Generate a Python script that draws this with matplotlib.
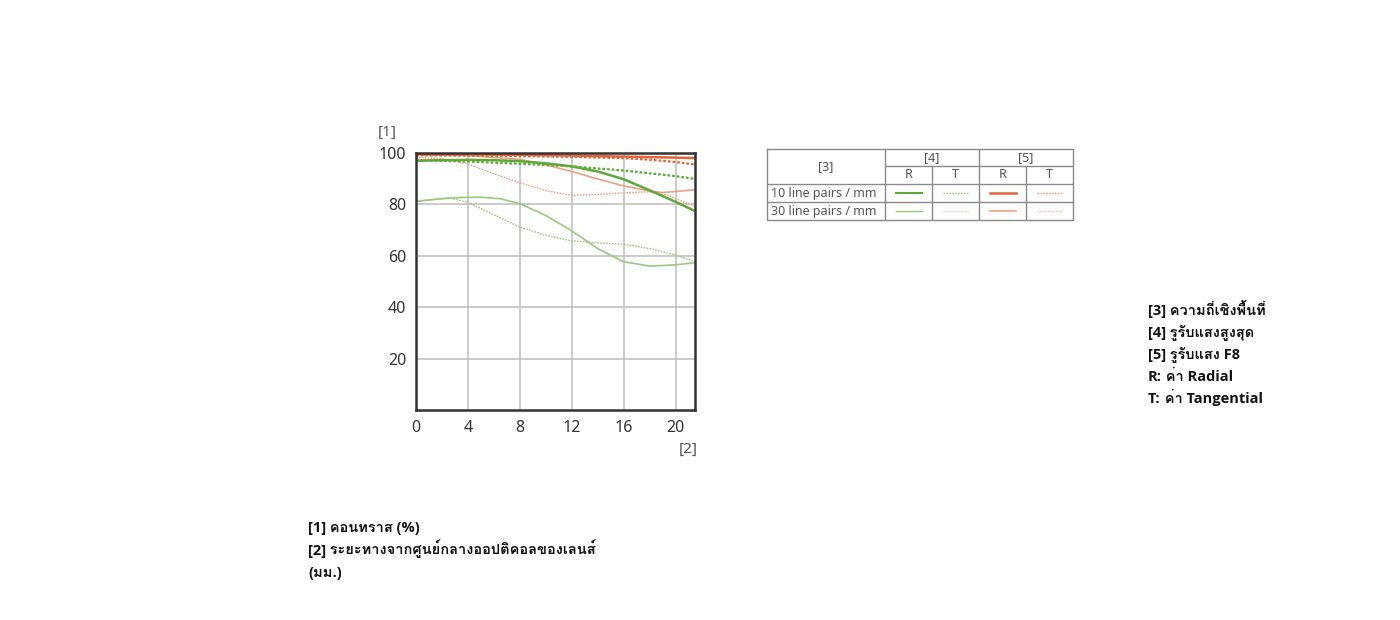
import numpy as np
import matplotlib
matplotlib.use("Agg")
import matplotlib.pyplot as plt
from matplotlib import font_manager, ft2font

# MTF data (x: mm from optical centre, y: contrast %)
x_gr10 = [0, 2, 4, 6, 8, 10, 12, 14, 16, 18, 20, 21.5]
y_gr10 = [97.0, 97.2, 97.3, 97.2, 96.8, 96.0, 94.8, 92.8, 89.8, 85.5, 81.0, 77.4]
x_gt10 = [0, 4, 8, 12, 16, 20, 21.5]
y_gt10 = [97.2, 96.7, 95.8, 94.8, 93.2, 91.0, 89.9]
x_rr10 = [0, 4, 8, 12, 16, 20, 21.5]
y_rr10 = [99.6, 99.5, 99.3, 99.0, 98.6, 98.2, 98.0]
x_rt10 = [0, 4, 8, 12, 16, 18, 20, 21.5]
y_rt10 = [99.1, 99.0, 98.8, 98.5, 98.0, 97.4, 96.5, 95.5]

x_gr30 = [0, 2, 3.5, 5, 6.5, 8, 10, 12, 13, 14, 16, 18, 20, 21.5]
y_gr30 = [81.2, 82.2, 82.7, 82.8, 82.2, 80.3, 75.7, 69.7, 66.3, 62.8, 57.7, 56.0, 56.5, 57.3]
x_gt30 = [0, 2.5, 4, 6, 8, 10, 12, 14, 16, 18, 20, 21.5]
y_gt30 = [81.2, 82.6, 80.8, 76.0, 71.2, 68.0, 65.8, 65.0, 64.5, 62.8, 60.3, 57.7]
x_rr30 = [0, 4, 8, 10, 12, 14, 16, 18, 19, 20, 21.5]
y_rr30 = [99.2, 99.0, 97.5, 95.4, 92.8, 89.9, 87.2, 85.2, 84.6, 85.0, 85.7]
x_rt30 = [0, 2, 4, 6, 8, 10, 12, 14, 16, 18, 19.5, 20, 21.5]
y_rt30 = [98.3, 97.8, 95.7, 91.9, 88.4, 85.4, 83.5, 83.9, 84.5, 84.9, 83.5, 82.2, 79.2]

x_ticks = [0, 4, 8, 12, 16, 20]
y_ticks = [20, 40, 60, 80, 100]

row_labels = ["10 line pairs / mm", "30 line pairs / mm"]
group_labels = ["[4]", "[5]"]
sub_labels = ["R", "T", "R", "T"]

notes_left = [("[1]", " คอนทราส (%)"),
              ("[2]", " ระยะทางจากศูนย์กลางออปติคอลของเลนส์"),
              ("", "(มม.)")]
notes_right = [("[3]", " ความถี่เชิงพื้นที่"),
               ("[4]", " รูรับแสงสูงสุด"),
               ("[5]", " รูรับแสง F8"),
               ("R:", " ค่า Radial"),
               ("T:", " ค่า Tangential")]

GREEN = "#5ea83a"
GREEN_L = "#98c97e"
RED = "#e0653a"
RED_L = "#eda084"
DOT = (0, (1.2, 0.9))


def find_thai_font():
    for f in font_manager.fontManager.ttflist:
        try:
            if ord("ก") in ft2font.FT2Font(f.fname).get_charmap():
                return f.name
        except Exception:
            pass
    return None


def has_bold(name):
    return any(f.name == name and f.weight in ("bold", 700, 600, "semibold")
               for f in font_manager.fontManager.ttflist)


thai = find_thai_font()
latin = "Noto Sans"
bold_latin = next((n for n in ["Noto Sans", "Open Sans", "Lato", "DejaVu Sans"] if has_bold(n)),
                  "DejaVu Sans")
fams = [latin, "DejaVu Sans"]
bfams = [bold_latin, "DejaVu Sans"]
if thai:
    fams = [latin, thai, "DejaVu Sans"]
    bfams = [bold_latin, thai, "DejaVu Sans"]
plt.rcParams["font.family"] = fams

fig = plt.figure(figsize=(14, 6.2), dpi=100)

# main MTF chart
ax = fig.add_axes([416 / 1400, 1 - 410 / 620, 279 / 1400, 257 / 620])
ax.set_xlim(0, 21.5)
ax.set_ylim(0, 100)
ax.set_xticks(x_ticks)
ax.set_yticks(y_ticks)
ax.grid(True, color="#bdbdbd", lw=1.1)
ax.set_axisbelow(True)
ax.tick_params(length=0, labelsize=11.5, labelcolor="#333333", pad=7)
for s in ax.spines.values():
    s.set_color("#333333")
    s.set_linewidth(1.8)

ax.plot(x_gt30, y_gt30, color=GREEN_L, lw=1.0, ls=DOT)
ax.plot(x_gr30, y_gr30, color=GREEN_L, lw=1.2)
ax.plot(x_rt30, y_rt30, color=RED_L, lw=1.0, ls=DOT)
ax.plot(x_rr30, y_rr30, color=RED_L, lw=1.2)
ax.plot(x_gt10, y_gt10, color=GREEN, lw=1.6, ls=DOT)
ax.plot(x_gr10, y_gr10, color=GREEN, lw=1.8)
ax.plot(x_rt10, y_rt10, color=RED, lw=1.6, ls=DOT)
ax.plot(x_rr10, y_rr10, color=RED, lw=1.8)

fig.text(387 / 1400, 1 - 132 / 620, "[1]", fontsize=11, color="#555555",
         ha="center", va="center")
fig.text(688 / 1400, 1 - 449 / 620, "[2]", fontsize=11, color="#555555",
         ha="center", va="center")

# legend table, drawn in its own pixel-unit axes
tb = fig.add_axes([767 / 1400, 1 - 220 / 620, 306 / 1400, 71 / 620])
tb.set_xlim(0, 306)
tb.set_ylim(71, 0)
tb.axis("off")
grid_c = "#8a8a8a"
tb.plot([0, 306, 306, 0, 0], [0, 0, 71, 71, 0], color=grid_c, lw=1.0, clip_on=False)
for xv in [118, 212]:
    tb.plot([xv, xv], [0, 71], color=grid_c, lw=1.0)
for xv in [165, 259]:
    tb.plot([xv, xv], [17, 71], color=grid_c, lw=1.0)
tb.plot([118, 306], [17, 17], color=grid_c, lw=1.0)
for yv in [35, 53]:
    tb.plot([0, 306], [yv, yv], color=grid_c, lw=1.0)
tcol = "#555555"
tb.text(59, 17.5, "[3]", ha="center", va="center", fontsize=9, color=tcol)
for i, g in enumerate(group_labels):
    tb.text(165 + 94 * i, 8.5, g, ha="center", va="center", fontsize=9, color=tcol)
for i, s in enumerate(sub_labels):
    tb.text(141.5 + 47 * i, 26, s, ha="center", va="center", fontsize=9, color=tcol)
for j, r in enumerate(row_labels):
    tb.text(4, 44 + 18 * j, r, ha="left", va="center", fontsize=9, color=tcol)

legend_styles = [[(GREEN, "-", 1.5), (GREEN_L, DOT, 1.0), (RED, "-", 1.8), (RED_L, DOT, 1.0)],
                 [(GREEN_L, "-", 1.0), ("#c7e0b8", DOT, 0.9), (RED_L, "-", 1.2), ("#f0b8a4", DOT, 0.9)]]
for j, row in enumerate(legend_styles):
    for i, (c, ls, lw) in enumerate(row):
        cx = 141.5 + 47 * i
        tb.plot([cx - 13, cx + 13], [44 + 18 * j] * 2, color=c, ls=ls, lw=lw)

# notes (full-figure axes in pixel units)
note_ax = fig.add_axes([0, 0, 1, 1])
note_ax.set_xlim(0, 1400)
note_ax.set_ylim(620, 0)
note_ax.axis("off")
renderer = fig.canvas.get_renderer()


def note_lines(x0, y0, dy, items):
    for k, (head, body) in enumerate(items):
        y = y0 + dy * k
        w = 0
        if head:
            t = note_ax.text(x0, y, head, fontsize=10.5, fontweight="bold", family=bfams,
                             color="#111111", va="baseline", ha="left")
            w = t.get_window_extent(renderer).width
        note_ax.text(x0 + w, y, body, fontsize=10.5, fontweight="bold", family=bfams,
                     color="#111111", va="baseline", ha="left")


note_lines(308, 532, 22.5, notes_left)
note_lines(1148, 315, 22, notes_right)

fig.savefig("out.png", dpi=100)
